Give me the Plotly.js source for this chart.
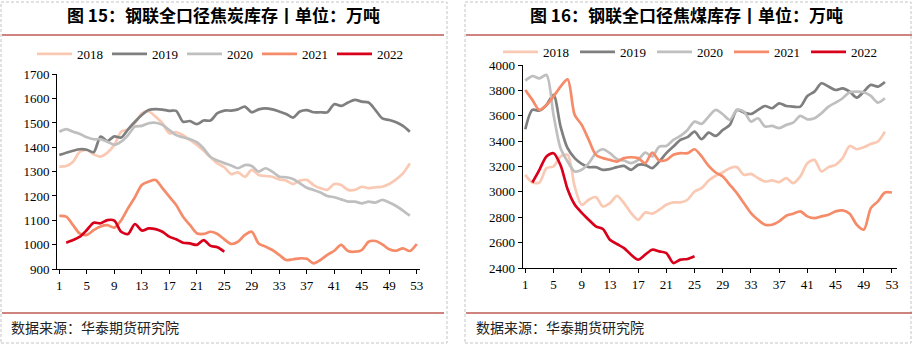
<!DOCTYPE html>
<html><head><meta charset="utf-8">
<script src="https://cdn.plot.ly/plotly-3.0.1.min.js"></script>
<style>html,body{margin:0;padding:0;background:#fff}#chart{width:912px;height:346px}</style>
</head><body><div id="chart"></div>
<script>
// ---------- data ----------
const weeks = [1,2,3,4,5,6,7,8,9,10,11,12,13,14,15,16,17,18,19,20,21,22,23,24,25,26,27,28,29,30,31,32,33,34,35,36,37,38,39,40,41,42,43,44,45,46,47,48,49,50,51,52,53];
const xTicks = [1,5,9,13,17,21,25,29,33,37,41,45,49,53];
const years = ['2018','2019','2020','2021','2022'];
const colors = ['#f9c9b3','#7f7f7f','#bfbfbf','#f58b68','#d9001b'];

// 钢联全口径焦炭库存 (万吨)
const coke2018 = [1321,1323,1341,1382,1389,1371,1362,1378,1410,1464,1474,1499,1540,1547,1526,1499,1458,1462,1450,1430,1410,1386,1359,1334,1318,1290,1297,1279,1307,1286,1282,1279,1268,1263,1249,1263,1266,1245,1232,1225,1249,1245,1225,1225,1238,1232,1236,1238,1249,1268,1293,1334];
const coke2019 = [1368,1378,1386,1392,1390,1380,1444,1426,1445,1440,1474,1505,1533,1553,1557,1555,1550,1550,1505,1508,1495,1510,1510,1540,1551,1551,1556,1567,1544,1556,1560,1556,1547,1537,1522,1547,1553,1544,1544,1544,1577,1570,1584,1595,1588,1584,1553,1519,1512,1503,1488,1464];
const coke2020 = [1464,1475,1464,1455,1441,1433,1433,1423,1410,1423,1450,1485,1488,1499,1501,1492,1471,1450,1441,1433,1421,1395,1360,1346,1335,1325,1314,1327,1323,1300,1314,1300,1279,1277,1270,1252,1234,1225,1214,1200,1195,1186,1177,1177,1170,1177,1173,1184,1173,1159,1140,1119];
const coke2021 = [1118,1115,1080,1045,1040,1060,1075,1080,1070,1100,1150,1195,1245,1259,1266,1232,1197,1163,1115,1081,1047,1044,1053,1044,1022,1003,1012,1040,1053,1005,992,978,958,937,940,944,942,923,937,958,975,999,974,971,978,1012,1015,1001,981,975,985,974,1003];
const coke2022 = [null,1008,1019,1033,1060,1090,1088,1101,1099,1053,1044,1085,1058,1067,1064,1053,1033,1022,1008,1005,999,1019,995,989,971];

// 钢联全口径焦煤库存 (万吨)
const coal2018 = [3134,3074,3074,3187,3200,3279,3292,3043,2898,2938,2959,2885,2911,2969,2911,2833,2780,2838,2828,2859,2898,2917,2917,2938,3003,3030,3090,3127,3153,3187,3195,3134,3142,3108,3082,3090,3077,3108,3069,3122,3226,3252,3161,3195,3213,3266,3362,3336,3352,3378,3397,3475];
const coal2019 = [3494,3646,3641,3685,3765,3515,3344,3266,3221,3195,3195,3174,3179,3195,3205,3174,3213,3213,3187,3239,3305,3357,3410,3431,3475,3415,3467,3441,3488,3528,3646,3625,3614,3646,3677,3659,3698,3677,3672,3672,3756,3790,3856,3830,3803,3816,3790,3743,3790,3843,3830,3866];
const coal2020 = [3877,3913,3895,3921,3607,3344,3239,3161,3174,3226,3305,3336,3305,3258,3247,3226,3252,3310,3279,3357,3362,3410,3441,3488,3554,3536,3593,3646,3612,3567,3646,3633,3554,3580,3515,3520,3502,3528,3546,3599,3572,3580,3620,3672,3704,3738,3785,3790,3785,3756,3704,3738];
const coal2021 = [3803,3725,3646,3685,3751,3830,3887,3607,3528,3410,3292,3266,3252,3239,3266,3273,3266,3226,3310,3247,3252,3292,3305,3305,3336,3279,3205,3153,3121,3056,2990,2911,2833,2780,2741,2741,2767,2812,2828,2846,2807,2793,2807,2820,2846,2854,2828,2741,2702,2872,2925,2995,2995];
const coal2022 = [null,3074,3174,3279,3305,3210,3020,2900,2835,2780,2728,2707,2623,2589,2557,2505,2466,2505,2544,2531,2518,2439,2466,2471,2492];

const titleL = '图 15：钢联全口径焦炭库存丨单位：万吨';
const titleR = '图 16：钢联全口径焦煤库存丨单位：万吨';
const sourceText = '数据来源：华泰期货研究院';

// ---------- layout helpers ----------
const W = 912, H = 346;
const X = p => p / W;
const Y = p => 1 - p / H;

const cokeSeries = [coke2018, coke2019, coke2020, coke2021, coke2022];
const coalSeries = [coal2018, coal2019, coal2020, coal2021, coal2022];

const traces = [];
cokeSeries.forEach((vals, i) => traces.push({
  type: 'scatter', mode: 'lines', name: years[i],
  x: weeks.slice(0, vals.length), y: vals,
  xaxis: 'x', yaxis: 'y', legend: 'legend',
  line: {color: colors[i], width: 2.7, shape: 'spline', smoothing: 0.8},
  connectgaps: false, hoverinfo: 'skip'
}));
coalSeries.forEach((vals, i) => traces.push({
  type: 'scatter', mode: 'lines', name: years[i],
  x: weeks.slice(0, vals.length), y: vals,
  xaxis: 'x2', yaxis: 'y2', legend: 'legend2',
  line: {color: colors[i], width: 2.7, shape: 'spline', smoothing: 0.8},
  connectgaps: false, hoverinfo: 'skip'
}));

const tickFont = {family: 'Liberation Serif, Times New Roman, serif', size: 13, color: '#000'};
const xAxisBase = {
  tickmode: 'array', tickvals: xTicks, ticktext: xTicks.map(String),
  showline: true, linecolor: '#000', linewidth: 1,
  ticks: 'outside', ticklen: 4, tickcolor: '#000', tickwidth: 1,
  showgrid: false, zeroline: false, tickfont: tickFont, fixedrange: true
};
const yAxisBase = {
  showline: true, linecolor: '#000', linewidth: 1,
  ticks: 'outside', ticklen: 4, tickcolor: '#000', tickwidth: 1,
  showgrid: false, zeroline: false, tickfont: tickFont, fixedrange: true
};

const legendBase = {
  orientation: 'h', xanchor: 'left', yanchor: 'middle',
  font: {family: 'Liberation Serif, Times New Roman, serif', size: 13, color: '#000'},
  bgcolor: 'rgba(0,0,0,0)', borderwidth: 0,
  entrywidthmode: 'pixels', itemwidth: 35
};

const redLine = '#be5a55';
const dashCol = '#c4c4c4';
const shapes = [
  {type:'rect', xref:'paper', yref:'paper', x0:X(1), x1:X(447), y0:Y(343), y1:Y(2), line:{color:dashCol, width:1, dash:'3px,2px'}},
  {type:'rect', xref:'paper', yref:'paper', x0:X(465), x1:X(911), y0:Y(343), y1:Y(2), line:{color:dashCol, width:1, dash:'3px,2px'}},
  {type:'line', xref:'paper', yref:'paper', x0:X(2), x1:X(444), y0:Y(35), y1:Y(35), line:{color:redLine, width:1.5}},
  {type:'line', xref:'paper', yref:'paper', x0:X(466), x1:X(912), y0:Y(35), y1:Y(35), line:{color:redLine, width:1.5}},
  {type:'line', xref:'paper', yref:'paper', x0:X(2), x1:X(444), y0:Y(313), y1:Y(313), line:{color:redLine, width:1.5}},
  {type:'line', xref:'paper', yref:'paper', x0:X(466), x1:X(912), y0:Y(313), y1:Y(313), line:{color:redLine, width:1.5}}
];

const titleFont = {family: 'Noto Sans CJK SC, sans-serif', size: 17, color: '#000', weight: 'bold'};
const srcFont = {family: 'Noto Sans CJK SC, sans-serif', size: 14, color: '#222'};
const annotations = [
  {text: '<b>' + titleL + '</b>', xref:'paper', yref:'paper', x:X(223), y:Y(15), xanchor:'center', yanchor:'middle', showarrow:false, font:titleFont},
  {text: '<b>' + titleR + '</b>', xref:'paper', yref:'paper', x:X(686), y:Y(15), xanchor:'center', yanchor:'middle', showarrow:false, font:titleFont},
  {text: sourceText, xref:'paper', yref:'paper', x:X(9), y:Y(327), xanchor:'left', yanchor:'middle', showarrow:false, font:srcFont},
  {text: sourceText, xref:'paper', yref:'paper', x:X(474), y:Y(327), xanchor:'left', yanchor:'middle', showarrow:false, font:srcFont}
];

const layout = {
  width: W, height: H,
  margin: {l:0, r:0, t:0, b:0, autoexpand: false},
  paper_bgcolor: '#fff', plot_bgcolor: '#fff',
  xaxis: Object.assign({}, xAxisBase, {domain:[X(57), X(420)], range:[0.66, 53.48], anchor:'y'}),
  yaxis: Object.assign({}, yAxisBase, {domain:[Y(269), Y(74.3)], range:[900, 1700], dtick:100, tick0:900, anchor:'x'}),
  xaxis2: Object.assign({}, xAxisBase, {domain:[X(522.7), X(897)], range:[0.63, 53.71], anchor:'y2'}),
  yaxis2: Object.assign({}, yAxisBase, {domain:[Y(268), Y(65)], range:[2400, 4000], dtick:200, tick0:2400, anchor:'x2'}),
  legend: Object.assign({}, legendBase, {x: X(32), y: Y(54), entrywidth: 25}),
  legend2: Object.assign({}, legendBase, {x: X(498), y: Y(52), entrywidth: 27}),
  shapes: shapes,
  annotations: annotations,
  showlegend: true
};

Plotly.newPlot('chart', traces, layout, {staticPlot: true, displayModeBar: false});
</script>
</body></html>
